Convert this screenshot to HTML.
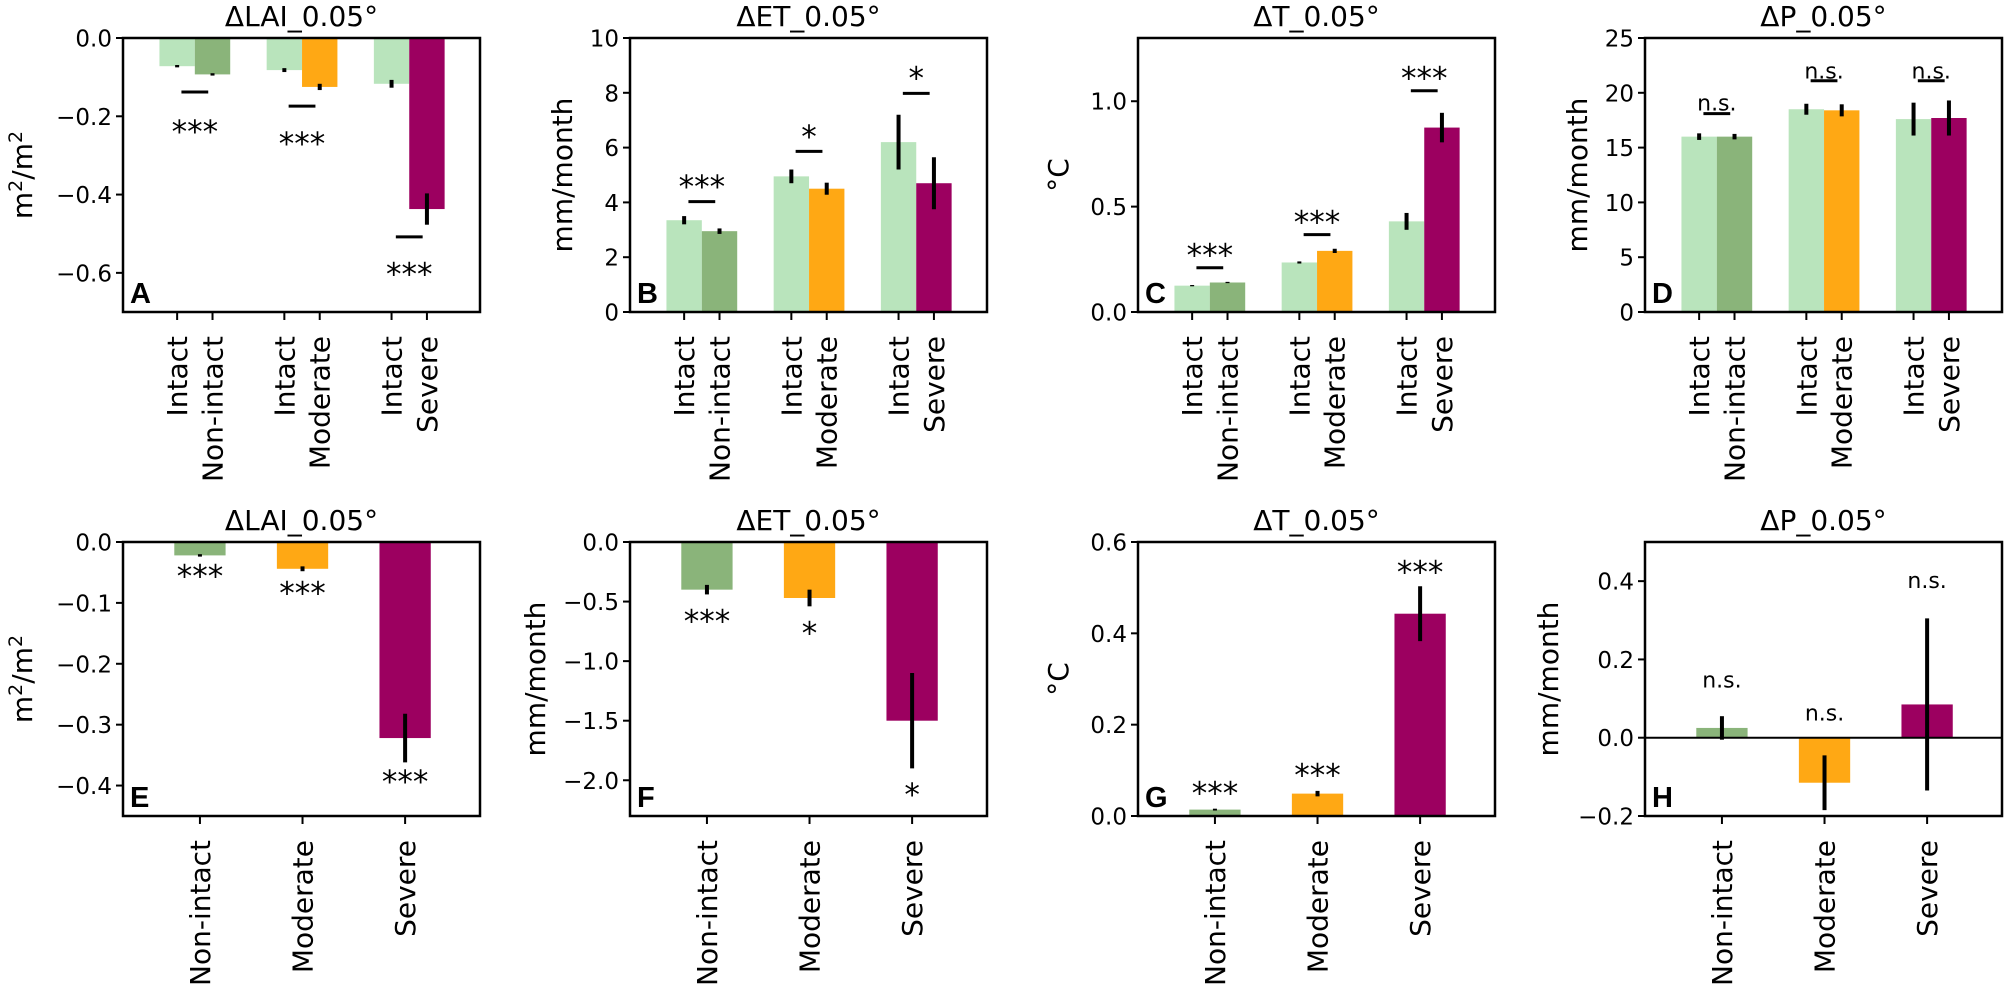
<!DOCTYPE html>
<html><head><meta charset="utf-8"><style>
html,body{margin:0;padding:0;background:#fff;}
svg{display:block;font-family:"DejaVu Sans","Liberation Sans",sans-serif;}
</style></head><body>
<svg id="fig" width="2008" height="989" viewBox="0 0 2008 989" xmlns="http://www.w3.org/2000/svg"></svg>
<script>
// ---- data ----
const groupCats = ["Non-intact","Moderate","Severe"];
const A_intact = [-0.072,-0.082,-0.117]; const A_intactErr=[0.003,0.005,0.01];
const A_other = [-0.093,-0.125,-0.437]; const A_otherErr=[0.003,0.008,0.04];
const A_sigLine=[-0.138,-0.174,-0.508]; const A_sigText=[-0.267,-0.297,-0.631]; const A_sig=["***","***","***"];
const A_ticks=[0,-0.2,-0.4,-0.6]; const A_tickLabels=["0.0","\u22120.2","\u22120.4","\u22120.6"];
const B_intact=[3.35,4.95,6.2]; const B_intactErr=[0.15,0.25,1.0];
const B_other=[2.95,4.5,4.7]; const B_otherErr=[0.1,0.22,0.95];
const B_sigLine=[4.03,5.86,7.98]; const B_sigText=[4.18,6.0,8.13]; const B_sig=["***","*","*"];
const B_ticks=[0,2,4,6,8,10]; const B_tickLabels=["0","2","4","6","8","10"];
const C_intact=[0.125,0.235,0.43]; const C_intactErr=[0.003,0.005,0.04];
const C_other=[0.14,0.29,0.875]; const C_otherErr=[0.003,0.01,0.07];
const C_sigLine=[0.21,0.367,1.05]; const C_sigText=[0.219,0.376,1.057]; const C_sig=["***","***","***"];
const C_ticks=[0,0.5,1.0]; const C_tickLabels=["0.0","0.5","1.0"];
const D_intact=[16.0,18.5,17.6]; const D_intactErr=[0.3,0.5,1.5];
const D_other=[16.0,18.4,17.7]; const D_otherErr=[0.25,0.55,1.6];
const D_sigLine=[18.1,21.1,21.1]; const D_sigText=[18.4,21.3,21.3]; const D_sig=["n.s.","n.s.","n.s."];
const D_ticks=[0,5,10,15,20,25]; const D_tickLabels=["0","5","10","15","20","25"];
const E_vals=[-0.022,-0.044,-0.322]; const E_err=[0.002,0.004,0.04];
const E_sigText=[-0.074,-0.102,-0.411]; const E_sig=["***","***","***"];
const E_ticks=[0,-0.1,-0.2,-0.3,-0.4]; const E_tickLabels=["0.0","\u22120.1","\u22120.2","\u22120.3","\u22120.4"];
const F_vals=[-0.40,-0.47,-1.50]; const F_err=[0.04,0.07,0.40];
const F_sigText=[-0.756,-0.857,-2.21]; const F_sig=["***","*","*"];
const F_ticks=[0,-0.5,-1.0,-1.5,-2.0]; const F_tickLabels=["0.0","\u22120.5","\u22121.0","\u22121.5","\u22122.0"];
const G_vals=[0.014,0.049,0.443]; const G_err=[0.002,0.006,0.06];
const G_sigText=[0.026,0.066,0.51]; const G_sig=["***","***","***"];
const G_ticks=[0,0.2,0.4,0.6]; const G_tickLabels=["0.0","0.2","0.4","0.6"];
const H_vals=[0.025,-0.115,0.085]; const H_err=[0.03,0.07,0.22];
const H_sigText=[0.128,0.044,0.382]; const H_sig=["n.s.","n.s.","n.s."];
const H_ticks=[-0.2,0,0.2,0.4]; const H_tickLabels=["\u22120.2","0.0","0.2","0.4"];

const NS="http://www.w3.org/2000/svg";
const svg=document.getElementById('fig');
const COL=["#8ab47a","#ffa814","#9c0060"]; const LIGHT="#b9e4bc";
function mk(tag,attrs,parent){const e=document.createElementNS(NS,tag);for(const k in attrs)e.setAttribute(k,attrs[k]);(parent||svg).appendChild(e);return e;}

function panel(o){
  const g=mk('g',{});
  
  
  const L=o.left,R=o.left+357,T=o.top,B=o.top+274;
  const y=v=>B-(v-o.ymin)/(o.ymax-o.ymin)*(B-T);
  const x=u=>L+(u-o.xmin)/(o.xmax-o.xmin)*(R-L);
  o.ticks.forEach((t,i)=>{
    const tl=mk('line',{x1:L-7,x2:L,y1:y(t),y2:y(t),stroke:'#000','stroke-width':2},g);
     
    const tx=mk('text',{x:L-11,y:y(t)+8.5,'text-anchor':'end','font-size':23},g);
     
    tx.textContent=o.tickLabels[i];
  });
  const drawBar=(cx,w,v,e,color,name)=>{
    const r=mk('rect',{x:x(cx-w/2),width:x(cx+w/2)-x(cx-w/2),y:Math.min(y(v),y(0)),height:Math.abs(y(v)-y(0)),fill:color},g);
     
    const el=mk('line',{x1:x(cx),x2:x(cx),y1:y(v-e),y2:y(v+e),stroke:'#000','stroke-width':4},g);
     
  };
  const xlab=(cx,label)=>{
    const tk=mk('line',{x1:x(cx),x2:x(cx),y1:B,y2:B+8,stroke:'#000','stroke-width':2},g);
     
    const t=mk('text',{x:0,y:0,'text-anchor':'end','font-size':28,transform:`translate(${x(cx)+10},${B+24}) rotate(-90)`},g);
     
    t.textContent=label;
  };
  const sigTxt=(cx,v,s)=>{
    const t=mk('text',{x:x(cx),y:y(v),'text-anchor':'middle','font-size':s==='n.s.'?22:31},g);
     
    t.textContent=s;
  };
  if(o.paired){
    const w=0.33;
    for(let i=0;i<3;i++){
      drawBar(i-w/2,w,o.intact[i],o.intactErr[i],LIGHT,'bar-intact-'+(i+1));
      drawBar(i+w/2,w,o.other[i],o.otherErr[i],COL[i],'bar-'+groupCats[i].toLowerCase());
      xlab(i-w/2,"Intact"); xlab(i+w/2,groupCats[i]);
      const sl=mk('line',{x1:x(i-0.125),x2:x(i+0.125),y1:y(o.sigLine[i]),y2:y(o.sigLine[i]),stroke:'#000','stroke-width':3},g);
       
      sigTxt(i,o.sigText[i],o.sig[i]);
    }
  } else {
    for(let i=0;i<3;i++){
      drawBar(i,0.5,o.vals[i],o.err[i],COL[i],'bar-'+groupCats[i].toLowerCase());
      xlab(i,groupCats[i]);
      sigTxt(i,o.sigText[i],o.sig[i]);
    }
  }
  if(o.zeroLine){
    const z=mk('line',{x1:L,x2:R,y1:y(0),y2:y(0),stroke:'#000','stroke-width':2},g);
     
  }
  const fr=mk('rect',{x:L,y:T,width:R-L,height:B-T,fill:'none',stroke:'#000','stroke-width':2.5},g);
   
  const ti=mk('text',{x:(L+R)/2,y:T-12,'text-anchor':'middle','font-size':28},g);
   
  ti.textContent=o.title;
  const yl=mk('text',{x:0,y:0,'text-anchor':'middle','font-size':28,transform:`translate(${o.ylx},${(T+B)/2}) rotate(-90)`},g);
   
  if(o.ylabel==='m2'){yl.innerHTML='m<tspan dy="-10" font-size="19">2</tspan><tspan dy="10">/m</tspan><tspan dy="-10" font-size="19">2</tspan>';}
  else yl.textContent=o.ylabel;
  const le=mk('text',{x:L+7,y:B-9,'font-size':29,'font-weight':'bold','font-family':'Liberation Sans, sans-serif'},g);
   
  le.textContent=o.letter;
}
const TOP=38, BOT=542;
const PX=[-0.67,2.66], SX=[-0.75,2.73];
panel({letter:'A',title:'\u0394LAI_0.05\u00b0',left:123,top:TOP,ymin:-0.7,ymax:0,xmin:PX[0],xmax:PX[1],paired:true,intact:A_intact,intactErr:A_intactErr,other:A_other,otherErr:A_otherErr,sigLine:A_sigLine,sigText:A_sigText,sig:A_sig,ticks:A_ticks,tickLabels:A_tickLabels,ylabel:'m2',ylx:32});
panel({letter:'B',title:'\u0394ET_0.05\u00b0',left:630,top:TOP,ymin:0,ymax:10,xmin:PX[0],xmax:PX[1],paired:true,intact:B_intact,intactErr:B_intactErr,other:B_other,otherErr:B_otherErr,sigLine:B_sigLine,sigText:B_sigText,sig:B_sig,ticks:B_ticks,tickLabels:B_tickLabels,ylabel:'mm/month',ylx:572});
panel({letter:'C',title:'\u0394T_0.05\u00b0',left:1138,top:TOP,ymin:0,ymax:1.3,xmin:PX[0],xmax:PX[1],paired:true,intact:C_intact,intactErr:C_intactErr,other:C_other,otherErr:C_otherErr,sigLine:C_sigLine,sigText:C_sigText,sig:C_sig,ticks:C_ticks,tickLabels:C_tickLabels,ylabel:'\u00b0C',ylx:1068});
panel({letter:'D',title:'\u0394P_0.05\u00b0',left:1645,top:TOP,ymin:0,ymax:25,xmin:PX[0],xmax:PX[1],paired:true,intact:D_intact,intactErr:D_intactErr,other:D_other,otherErr:D_otherErr,sigLine:D_sigLine,sigText:D_sigText,sig:D_sig,ticks:D_ticks,tickLabels:D_tickLabels,ylabel:'mm/month',ylx:1587});
panel({letter:'E',title:'\u0394LAI_0.05\u00b0',left:123,top:BOT,ymin:-0.45,ymax:0,xmin:SX[0],xmax:SX[1],paired:false,vals:E_vals,err:E_err,sigText:E_sigText,sig:E_sig,ticks:E_ticks,tickLabels:E_tickLabels,ylabel:'m2',ylx:32});
panel({letter:'F',title:'\u0394ET_0.05\u00b0',left:630,top:BOT,ymin:-2.3,ymax:0,xmin:SX[0],xmax:SX[1],paired:false,vals:F_vals,err:F_err,sigText:F_sigText,sig:F_sig,ticks:F_ticks,tickLabels:F_tickLabels,ylabel:'mm/month',ylx:545});
panel({letter:'G',title:'\u0394T_0.05\u00b0',left:1138,top:BOT,ymin:0,ymax:0.6,xmin:SX[0],xmax:SX[1],paired:false,vals:G_vals,err:G_err,sigText:G_sigText,sig:G_sig,ticks:G_ticks,tickLabels:G_tickLabels,ylabel:'\u00b0C',ylx:1068});
panel({letter:'H',title:'\u0394P_0.05\u00b0',left:1645,top:BOT,ymin:-0.2,ymax:0.5,xmin:SX[0],xmax:SX[1],paired:false,vals:H_vals,err:H_err,sigText:H_sigText,sig:H_sig,ticks:H_ticks,tickLabels:H_tickLabels,ylabel:'mm/month',ylx:1558,zeroLine:true});
</script>
</body></html>
